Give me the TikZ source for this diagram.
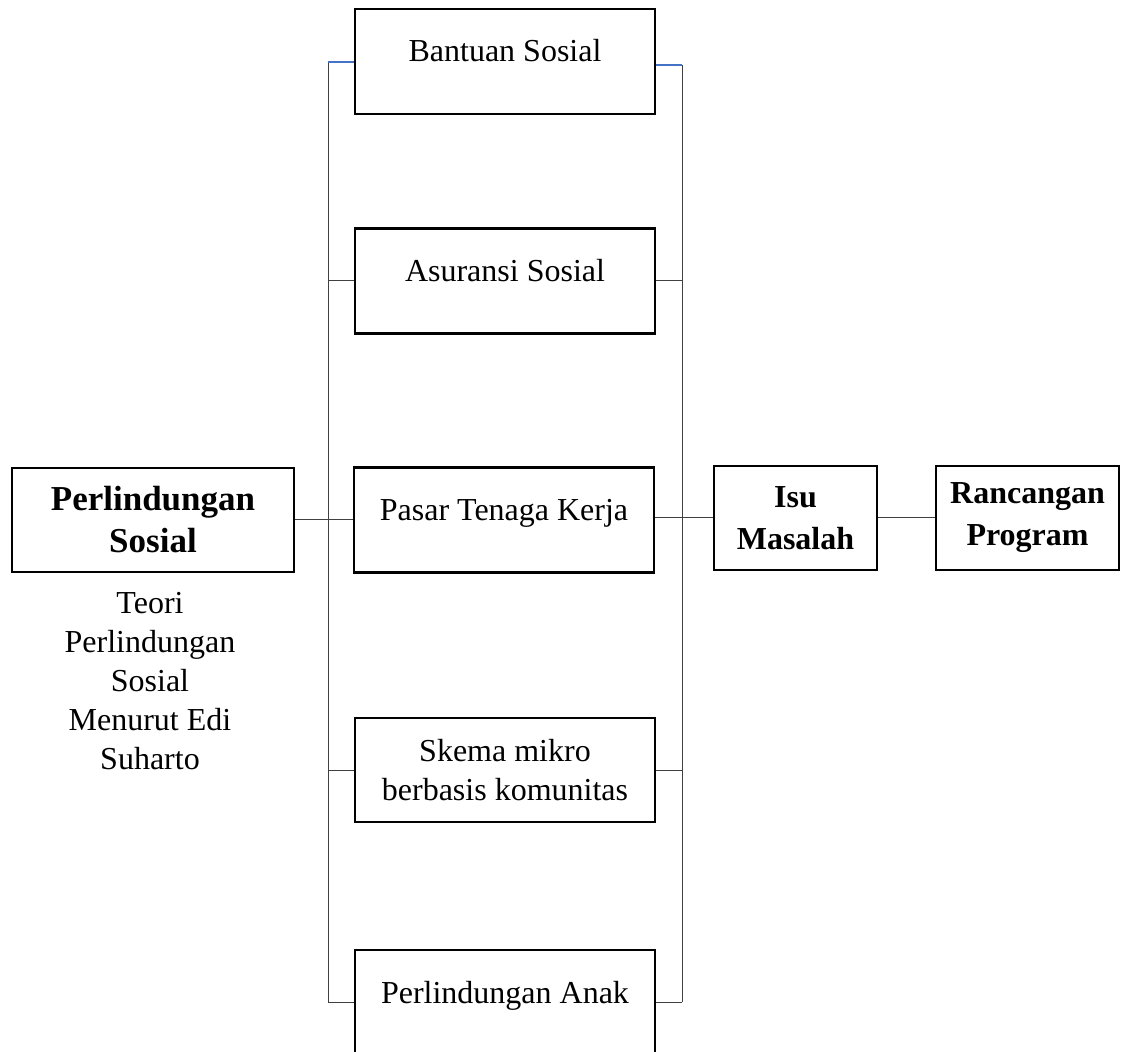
\documentclass[tikz,border=0pt]{standalone}
\usepackage{fontspec}
\setmainfont{Liberation Serif}
\usetikzlibrary{positioning}
\definecolor{railblue}{RGB}{68,114,196}

\begin{document}
\begin{tikzpicture}[
      x=0.5pt, y=-0.5pt,
      main node/.style={draw,line width=1.4pt,inner sep=0pt,align=center,
        font=\bfseries\fontsize{16}{21}\selectfont,minimum height=52pt},
      cell/.style={draw,line width=1.4pt,inner sep=0pt,minimum width=150pt,
        font=\fontsize{16}{19.5}\selectfont},
      top text/.style={text height=26.5pt,text depth=26pt},
      mid text/.style={align=center,minimum height=52pt},
      link/.style={line width=0.5pt,black!75},
      blue link/.style={line width=0.6pt,railblue}
      ]
      \clip (0,0) rectangle (1133,1052);
      % nodes
      % left
      \node [main node,minimum width=141pt,font=\bfseries\fontsize{17.5}{21}\selectfont]
        (sosial) at (153,520) {Perlindungan\\Sosial};
      \node [align=center,font=\fontsize{16}{19.5}\selectfont] (teori) at (150,681)
        {Teori\\Perlindungan\\Sosial\\Menurut Edi\\Suharto};
      % middle
      \node [cell,top text] (bantuan) at (505,61.5) {Bantuan Sosial};
      \node [cell,top text] (asuransi) at (505,281) {Asuransi Sosial};
      \node [cell,top text] (pasar) at (504,520) {Pasar Tenaga Kerja};
      \node [cell,mid text] (skema) at (505,770) {Skema mikro\\berbasis komunitas};
      \node [cell,top text] (anak) at (505,1002.5) {Perlindungan Anak};
      % right
      \node [main node,minimum width=81.5pt] (isu) at (795.5,518) {Isu\\Masalah};
      \node [main node,minimum width=91.5pt] (rancangan) at (1027.5,518) {Rancangan\\Program};
      % rails
      \coordinate (lt) at (328,62);
      \coordinate (lb) at (328,1002);
      \coordinate (rt) at (682,65);
      \coordinate (rb) at (682,1002);
      \draw [link] (lt) -- (lb);
      \draw [link] (rt) -- (rb);
      % arcs
      \draw [blue link] (lt) -- (bantuan.west |- lt);
      \draw [blue link] (bantuan.east |- rt) -- (rt);
      \foreach \n in {asuransi,skema,anak} {
          \draw [link] (\n.west -| lt) -- (\n.west);
          \draw [link] (\n.east) -- (\n.east -| rt);
      }
      \draw [link] (sosial.east) -- (pasar.west);
      \draw [link] (pasar.east |- isu.west) -- (isu.west);
      \draw [link] (isu.east) -- (rancangan.west);
    \end{tikzpicture}
\end{document}
